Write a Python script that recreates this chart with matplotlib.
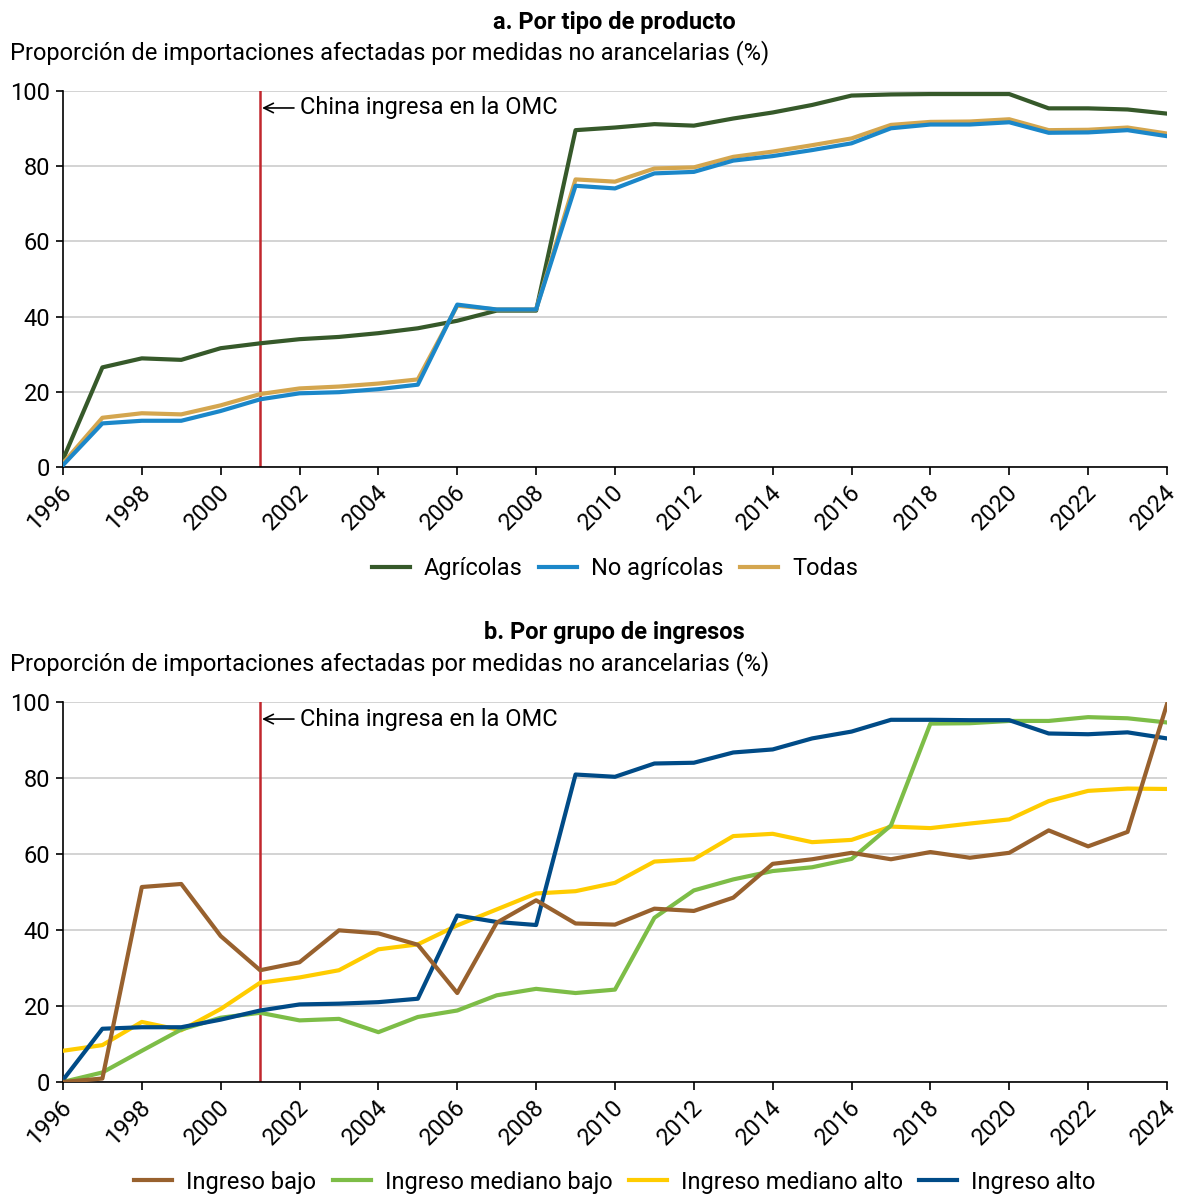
import numpy as np
import matplotlib.pyplot as plt
from matplotlib.transforms import ScaledTranslation

plt.rcParams['font.family'] = ['Roboto', 'DejaVu Sans']

years = list(range(1996, 2025))

# panel a
agricolas = [2, 26.5, 28.9, 28.5, 31.6, 32.9, 34.0, 34.6, 35.6, 36.9, 38.9, 41.6, 41.6,
             89.6, 90.3, 91.2, 90.8, 92.7, 94.3, 96.3, 98.8, 99.1, 99.2, 99.2, 99.2,
             95.4, 95.4, 95.1, 94.0]
no_agricolas = [0.5, 11.6, 12.3, 12.3, 14.9, 18.0, 19.6, 19.9, 20.7, 21.9, 43.2, 41.9, 41.9,
                74.8, 74.1, 78.1, 78.5, 81.5, 82.7, 84.3, 86.1, 90.1, 91.1, 91.1, 91.7,
                88.9, 89.0, 89.6, 88.0]
todas = [1, 13.1, 14.3, 14.0, 16.4, 19.4, 20.9, 21.4, 22.2, 23.3, 42.9, 41.9, 41.9,
         76.5, 75.9, 79.4, 79.7, 82.5, 83.9, 85.6, 87.4, 91.0, 91.8, 91.9, 92.5,
         89.6, 89.7, 90.3, 88.7]

# panel b
ingreso_bajo = [0, 0.9, 51.3, 52.1, 38.4, 29.4, 31.5, 39.9, 39.1, 36.1, 23.4, 41.9, 47.8,
                41.7, 41.4, 45.6, 45.0, 48.5, 57.4, 58.6, 60.3, 58.6, 60.5, 59.0, 60.3,
                66.2, 62.0, 65.8, 99.4]
mediano_bajo = [0, 2.5, 8.2, 13.8, 16.9, 18.2, 16.2, 16.6, 13.1, 17.1, 18.8, 22.8, 24.5,
                23.4, 24.3, 43.2, 50.4, 53.3, 55.5, 56.5, 58.7, 67.5, 94.3, 94.4, 95.0,
                95.0, 96.0, 95.7, 94.6]
mediano_alto = [8.2, 9.7, 15.8, 13.6, 19.2, 26.1, 27.5, 29.4, 34.9, 36.2, 41.2, 45.4, 49.6,
                50.2, 52.4, 58.0, 58.6, 64.7, 65.3, 63.1, 63.7, 67.2, 66.8, 68.0, 69.1,
                73.9, 76.6, 77.2, 77.1]
ingreso_alto = [0.5, 14.0, 14.4, 14.4, 16.4, 18.8, 20.4, 20.6, 21.0, 21.9, 43.8, 42.1, 41.3,
                80.9, 80.3, 83.8, 84.0, 86.7, 87.5, 90.4, 92.2, 95.3, 95.3, 95.2, 95.2,
                91.7, 91.5, 92.0, 90.4]

xticks = list(range(1996, 2025, 2))
subtitle = "Proporción de importaciones afectadas por medidas no arancelarias (%)"
FS = 17

fig = plt.figure(figsize=(11.79, 11.95), dpi=100)
ax1 = fig.add_axes([0.0534, 0.6092, 0.9364, 0.3146])
ax2 = fig.add_axes([0.0534, 0.0946, 0.9364, 0.318])


def style(ax):
    ax.set_xlim(1996, 2024)
    ax.set_ylim(0, 100)
    ax.set_yticks([0, 20, 40, 60, 80, 100])
    ax.set_xticks(xticks)
    ax.grid(axis='y', color='#d0d0d0', linewidth=1.3)
    ax.set_axisbelow(True)
    for s in ['top', 'right']:
        ax.spines[s].set_visible(False)
    ax.spines['left'].set_linewidth(1.2)
    ax.spines['bottom'].set_linewidth(1.2)
    ax.tick_params(axis='both', labelsize=FS, length=6, width=1.2, pad=4)
    ax.tick_params(axis='y', length=5, pad=4)
    ax.set_xticklabels([str(y) for y in xticks], rotation=45, ha='right',
                       rotation_mode='anchor')
    # nudge the rotated year labels a little to the left so 2024 stays inside
    shift = ScaledTranslation(-3 / 100, 0, fig.dpi_scale_trans)
    for lab in ax.get_xticklabels():
        lab.set_transform(lab.get_transform() + shift)
    ax.axvline(2001, color='#c1272d', linewidth=1.8, zorder=1)
    ax.annotate("China ingresa en la OMC", xy=(2001.05, 95.5), xytext=(2002.0, 95.5),
                fontsize=FS, va='center', ha='left',
                arrowprops=dict(arrowstyle='->', color='black', lw=1.2,
                                shrinkA=2, shrinkB=0))


lw = 3.0
ax1.plot(years, agricolas, color='#36592a', lw=lw, label='Agrícolas', zorder=3)
ax1.plot(years, todas, color='#d4a64f', lw=lw, label='Todas', zorder=3)
ax1.plot(years, no_agricolas, color='#1b87c9', lw=lw, label='No agrícolas', zorder=3)
style(ax1)
h, l = ax1.get_legend_handles_labels()
order = [0, 2, 1]
ax1.legend([h[i] for i in order], [l[i] for i in order], loc='upper center',
           bbox_to_anchor=(0.5, -0.184), ncol=3, frameon=False, fontsize=FS,
           handlelength=1.6, columnspacing=0.7, handletextpad=0.6)

ax2.plot(years, mediano_alto, color='#ffcc00', lw=lw, label='Ingreso mediano alto', zorder=3)
ax2.plot(years, mediano_bajo, color='#7dbd47', lw=lw, label='Ingreso mediano bajo', zorder=3)
ax2.plot(years, ingreso_alto, color='#004b87', lw=lw, label='Ingreso alto', zorder=3)
ax2.plot(years, ingreso_bajo, color='#98612e', lw=lw, label='Ingreso bajo', zorder=3)
style(ax2)
h, l = ax2.get_legend_handles_labels()
order = [3, 1, 0, 2]
ax2.legend([h[i] for i in order], [l[i] for i in order], loc='lower center',
           bbox_to_anchor=(0.5, -0.3), ncol=4, frameon=False, fontsize=FS,
           handlelength=1.6, columnspacing=0.7, handletextpad=0.6,
           borderaxespad=0, borderpad=0.1)

fig.text(0.521, 1 - 22 / 1195, "a. Por tipo de producto", fontsize=FS,
         fontweight='bold', ha='center', va='center')
fig.text(10 / 1179, 1 - 53 / 1195, subtitle, fontsize=FS, ha='left', va='center')
fig.text(0.521, 1 - 633 / 1195, "b. Por grupo de ingresos", fontsize=FS,
         fontweight='bold', ha='center', va='center')
fig.text(10 / 1179, 1 - 664 / 1195, subtitle, fontsize=FS, ha='left', va='center')

fig.savefig('out.png', dpi=100)
